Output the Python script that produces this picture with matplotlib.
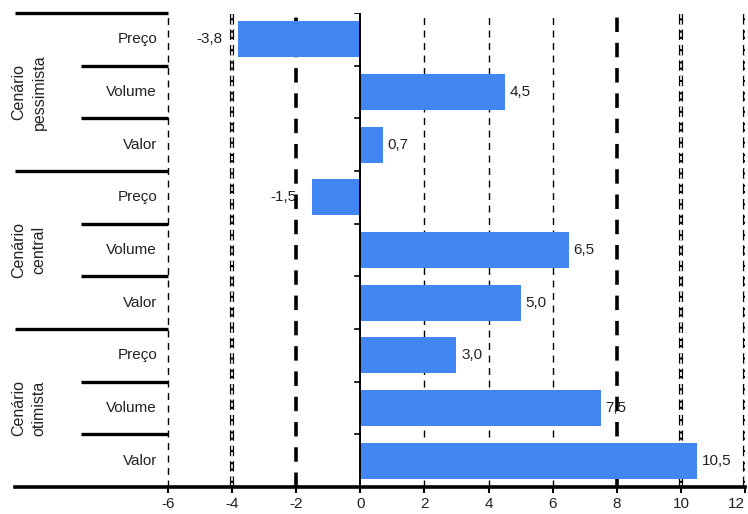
import numpy as np
import matplotlib.pyplot as plt

plt.rcParams['font.family'] = ['Liberation Sans', 'DejaVu Sans']

# Variação por cenário (%)
scenarios = ['Cenário\npessimista', 'Cenário\ncentral', 'Cenário\notimista']
items = ['Preço', 'Volume', 'Valor']
values = [-3.8, 4.5, 0.7,
          -1.5, 6.5, 5.0,
          3.0, 7.5, 10.5]
x_ticks = [-6, -4, -2, 0, 2, 4, 6, 8, 10, 12]

bar_color = '#4186f2'
text_color = '#222222'
x_left = -10.77  # room for the category labels on the left
fs = 11

fig = plt.figure(figsize=(7.48, 5.14), dpi=100)
ax = fig.add_axes([15 / 748, 1 - 487 / 514, 730 / 748, 474 / 514])

n = len(values)
y = np.arange(n)
ax.set_xlim(x_left, 12)
ax.set_ylim(n - 0.5, -0.5)

# vertical reference lines
thin = dict(color='black', lw=1.0, ls=(0, (5, 4)), zorder=1)
thick = dict(color='black', lw=2.6, ls=(0, (4, 3)), zorder=1)
for xv in [-6, 2, 4, 6]:
    ax.axvline(xv, **thin)
for xv in [-2, 8]:
    ax.axvline(xv, **thick)
for xv in [-4, 10, 12]:
    ax.axvline(xv, color='black', lw=3.0, ls=(0, (2.5, 1.2)), zorder=1)
    ax.axvline(xv, color='white', lw=1.2, ls=(0, (2.5, 1.2)), zorder=1)

ax.barh(y, values, height=0.68, color=bar_color, zorder=2)
ax.axvline(0, color='black', lw=1.4, zorder=3)
for yy in np.arange(n + 1) - 0.5:
    ax.plot([-0.15, 0], [yy, yy], color='black', lw=1.2, zorder=3)

# value labels
for yy, v in zip(y, values):
    txt = f'{v:.1f}'.replace('.', ',')
    if v < 0:
        ax.text(v - 0.5, yy, txt, ha='right', va='center', fontsize=fs,
                color=text_color, zorder=4)
    else:
        ax.text(v + 0.15, yy, txt, ha='left', va='center', fontsize=fs,
                color=text_color, zorder=4)

# item labels and separators
for i in range(n):
    ax.text(-6.34, i, items[i % 3], ha='right', va='center', fontsize=fs,
            color=text_color)
for k in range(len(scenarios)):
    yb = 3 * k - 0.5
    ax.plot([x_left, -6], [yb, yb], color='black', lw=2.4, solid_capstyle='butt',
            clip_on=False, zorder=4)
    for j in (1, 2):
        ax.plot([-8.7, -6], [yb + j, yb + j], color='black', lw=2.4,
                solid_capstyle='butt', zorder=4)
for k, name in enumerate(scenarios):
    ax.text(-10.33, 3 * k + 1, name, rotation=90, ha='center', va='center',
            fontsize=11.5, linespacing=1.4, color=text_color)

# bottom axis
for s in ['left', 'right', 'top']:
    ax.spines[s].set_visible(False)
ax.spines['bottom'].set_linewidth(2.6)
ax.spines['bottom'].set_zorder(5)
ax.set_yticks([])
ax.set_xticks(x_ticks)
ax.set_xticklabels([str(t) for t in x_ticks], fontsize=fs, color=text_color)
ax.get_xticklabels()[-1].set_horizontalalignment('right')
ax.tick_params(axis='x', direction='out', length=4, width=1.5, pad=3)

fig.savefig('out.png', dpi=100)
